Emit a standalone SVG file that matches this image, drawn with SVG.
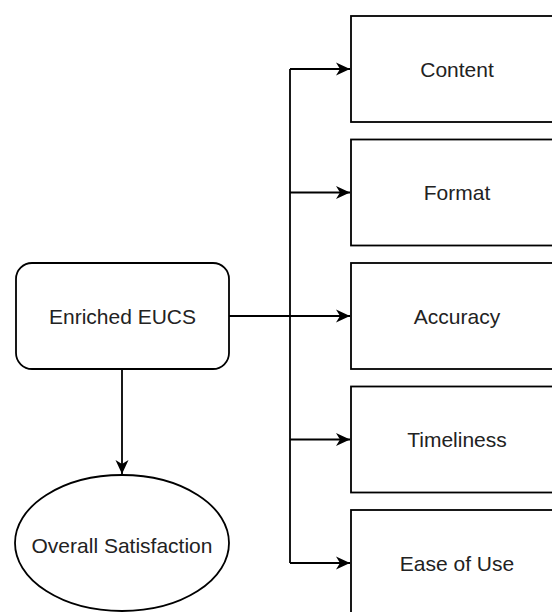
<svg xmlns="http://www.w3.org/2000/svg" width="552" height="612" viewBox="0 0 552 612">
  <defs>
    <marker id="arrow" markerUnits="userSpaceOnUse" markerWidth="16" markerHeight="14" refX="14" refY="7" orient="auto">
      <path d="M0,0.5 L14,7 L0,13.5 L4,7 Z" fill="#000"/>
    </marker>
    <style>
      .box { fill: #fff; stroke: #000; stroke-width: 1.8; }
      .label { font-family: "Liberation Sans", Arial, sans-serif; font-size: 21px; fill: #222; text-anchor: middle; dominant-baseline: central; }
      .edge { fill: none; stroke: #000; stroke-width: 1.8; }
    </style>
  </defs>
  <rect width="552" height="612" fill="#fff"/>

  <g id="connectors">
    <path class="edge" d="M229,316 L350,316" marker-end="url(#arrow)"/>
    <path class="edge" d="M290,69 L290,563"/>
    <path class="edge" d="M290,69 L350,69" marker-end="url(#arrow)"/>
    <path class="edge" d="M290,192.5 L350,192.5" marker-end="url(#arrow)"/>
    <path class="edge" d="M290,439.5 L350,439.5" marker-end="url(#arrow)"/>
    <path class="edge" d="M290,563 L350,563" marker-end="url(#arrow)"/>
    <path class="edge" d="M122,369 L122,474" marker-end="url(#arrow)"/>
  </g>

  <g id="enriched-eucs">
    <rect class="box" x="16" y="263" width="213" height="106" rx="16" ry="16"/>
    <text class="label" x="122.5" y="316">Enriched EUCS</text>
  </g>

  <g id="overall-satisfaction">
    <ellipse class="box" cx="122" cy="543" rx="107" ry="68"/>
    <text class="label" x="122" y="545">Overall Satisfaction</text>
  </g>

  <g id="content">
    <rect class="box" x="351" y="16" width="213" height="106"/>
    <text class="label" x="457" y="69">Content</text>
  </g>

  <g id="format">
    <rect class="box" x="351" y="139.5" width="213" height="106"/>
    <text class="label" x="457" y="192.5">Format</text>
  </g>

  <g id="accuracy">
    <rect class="box" x="351" y="263" width="213" height="106"/>
    <text class="label" x="457" y="316">Accuracy</text>
  </g>

  <g id="timeliness">
    <rect class="box" x="351" y="386.5" width="213" height="106"/>
    <text class="label" x="457" y="439.5">Timeliness</text>
  </g>

  <g id="ease-of-use">
    <rect class="box" x="351" y="510" width="213" height="106"/>
    <text class="label" x="457" y="563">Ease of Use</text>
  </g>
</svg>
